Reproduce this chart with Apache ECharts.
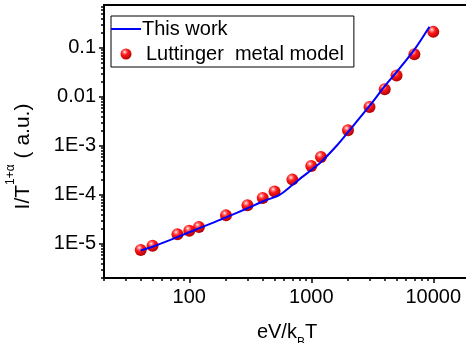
<!DOCTYPE html>
<html><head><meta charset="utf-8">
<script src="https://cdn.jsdelivr.net/npm/echarts@6/dist/echarts.min.js"></script>
<style>html,body{margin:0;padding:0;background:#fff}#c{width:466px;height:343px}</style>
</head><body><div id="c"></div>
<script>
// "This work" curve
const workX = [40, 50, 70, 100, 150, 200, 300, 400, 550, 700, 850, 1000, 1200, 1600, 2000, 3000, 4000, 5000, 7000, 9300];
const workY = [7.3e-6, 8.7e-6, 1.2e-5, 1.72e-5, 2.58e-5, 3.45e-5, 5.3e-5, 7.3e-5, 1.0e-4, 1.58e-4, 2.35e-4, 3.2e-4, 4.65e-4, 9.8e-4, 1.9e-3, 6.5e-3, 0.0165, 0.032, 0.092, 0.27];
// Luttinger metal model points
const modelX = [40, 50, 80, 100, 120, 200, 300, 400, 500, 700, 1000, 1200, 2000, 3000, 4000, 5000, 7000, 10000];
const modelY = [7.5e-6, 9.1e-6, 1.56e-5, 1.85e-5, 2.2e-5, 3.8e-5, 6.1e-5, 8.6e-5, 1.17e-4, 2.04e-4, 3.86e-4, 5.9e-4, 2.07e-3, 6.2e-3, 0.0143, 0.0273, 0.0743, 0.212];
const seriesNames = ['This work', 'Luttinger  metal model'];
const xTicks = [100, 1000, 10000];
const xTickLabels = ['100', '1000', '10000'];
const yTicks = [0.1, 0.01, 0.001, 0.0001, 0.00001];
const yTickLabels = ['0.1', '0.01', '1E-3', '1E-4', '1E-5'];
const xRange = [20, 20000];
const yRange = [2e-6, 0.75];

function minorTicks(lo, hi) {
  const out = [];
  for (let e = Math.floor(Math.log10(lo)); e <= Math.ceil(Math.log10(hi)); e++) {
    for (let m = 2; m <= 9; m++) {
      const v = m * Math.pow(10, e);
      if (v >= lo * 0.999 && v <= hi * 1.001) out.push(v);
    }
  }
  return out;
}
function pick(ticks, labels) {
  return function (v) {
    for (let i = 0; i < ticks.length; i++) {
      if (Math.abs(Math.log10(v) - Math.log10(ticks[i])) < 0.01) return labels[i];
    }
    return '';
  };
}
const FONT = 'Liberation Sans';
const gridPos = {left: 104, top: 5, right: -4, bottom: 65, outerBoundsMode: 'none', containLabel: false};
const chart = echarts.init(document.getElementById('c'), null, {renderer: 'canvas'});
const sphere = {
  type: 'radial', x: 0.38, y: 0.32, r: 0.7,
  colorStops: [
    {offset: 0, color: '#ffffff'},
    {offset: 0.16, color: '#ff8a8a'},
    {offset: 0.42, color: '#ff1a1a'},
    {offset: 1, color: '#b00000'}
  ]
};
chart.setOption({
  animation: false,
  backgroundColor: '#fff',
  grid: [
    Object.assign({show: true, borderColor: '#000', borderWidth: 2, backgroundColor: 'transparent'}, gridPos),
    Object.assign({show: false}, gridPos)
  ],
  legend: {
    orient: 'vertical', left: 111, top: 16,
    padding: [3, 10, 3, 0], itemGap: 5, itemWidth: 30, itemHeight: 11,
    borderColor: '#000', borderWidth: 1, borderRadius: 0,
    textStyle: {fontFamily: FONT, fontSize: 20, color: '#000'},
    data: [
      {name: seriesNames[0], icon: 'path://M0,0 L30,0 L30,2 L0,2 Z', itemStyle: {color: '#0000ff'}, textStyle: {padding: [0, 0, 0, -4]}},
      {name: seriesNames[1], icon: 'circle'}
    ]
  },
  xAxis: [
    {
      type: 'log', logBase: 10, min: xRange[0], max: xRange[1], gridIndex: 0, position: 'bottom',
      axisLine: {lineStyle: {color: '#000', width: 2}},
      axisTick: {customValues: xTicks, length: 5, lineStyle: {color: '#000', width: 1.5}},
      axisLabel: {customValues: xTicks, formatter: pick(xTicks, xTickLabels), fontFamily: FONT, fontSize: 20, color: '#000', margin: 9},
      splitLine: {show: false},
      name: '{m|eV/k}{s|B}{m|T}', nameLocation: 'middle', nameGap: 37,
      nameTextStyle: {rich: {
        m: {fontFamily: FONT, fontSize: 20, color: '#000'},
        s: {fontFamily: FONT, fontSize: 12, color: '#000', padding: [22, 0, 0, 0]}
      }}
    },
    {
      type: 'log', logBase: 10, min: xRange[0], max: xRange[1], gridIndex: 1, position: 'bottom',
      axisLine: {show: false},
      axisTick: {customValues: minorTicks(xRange[0], xRange[1]), length: 3, lineStyle: {color: '#000', width: 1.5}},
      axisLabel: {show: false}, splitLine: {show: false}
    }
  ],
  yAxis: [
    {
      type: 'log', logBase: 10, min: yRange[0], max: yRange[1], gridIndex: 0, position: 'left',
      axisLine: {lineStyle: {color: '#000', width: 2}},
      axisTick: {customValues: yTicks, length: 5, lineStyle: {color: '#000', width: 1.5}},
      axisLabel: {customValues: yTicks, formatter: pick(yTicks, yTickLabels), fontFamily: FONT, fontSize: 20, color: '#000', margin: 8},
      splitLine: {show: false},
      name: '{m|I/T}{s|1+α}{m| ( a.u.)}', nameLocation: 'middle', nameGap: 63,
      nameTextStyle: {padding: [0, 30, 0, 0], rich: {
        m: {fontFamily: FONT, fontSize: 21, color: '#000'},
        s: {fontFamily: FONT, fontSize: 12, color: '#000', padding: [0, 0, 24, 0]}
      }}
    },
    {
      type: 'log', logBase: 10, min: yRange[0], max: yRange[1], gridIndex: 1, position: 'left',
      axisLine: {show: false},
      axisTick: {customValues: minorTicks(yRange[0], yRange[1]), length: 3, lineStyle: {color: '#000', width: 1.5}},
      axisLabel: {show: false}, splitLine: {show: false}
    }
  ],
  series: [
    {
      name: seriesNames[0], type: 'line', xAxisIndex: 0, yAxisIndex: 0,
      data: workX.map((x, i) => [x, workY[i]]),
      symbol: 'none', smooth: 0.3,
      lineStyle: {color: '#0000ff', width: 2},
      itemStyle: {color: '#0000ff'}
    },
    {
      name: seriesNames[1], type: 'scatter', xAxisIndex: 0, yAxisIndex: 0,
      data: modelX.map((x, i) => [x, modelY[i]]),
      symbolSize: 12,
      itemStyle: {color: sphere, opacity: 1}
    }
  ]
});
</script></body></html>
